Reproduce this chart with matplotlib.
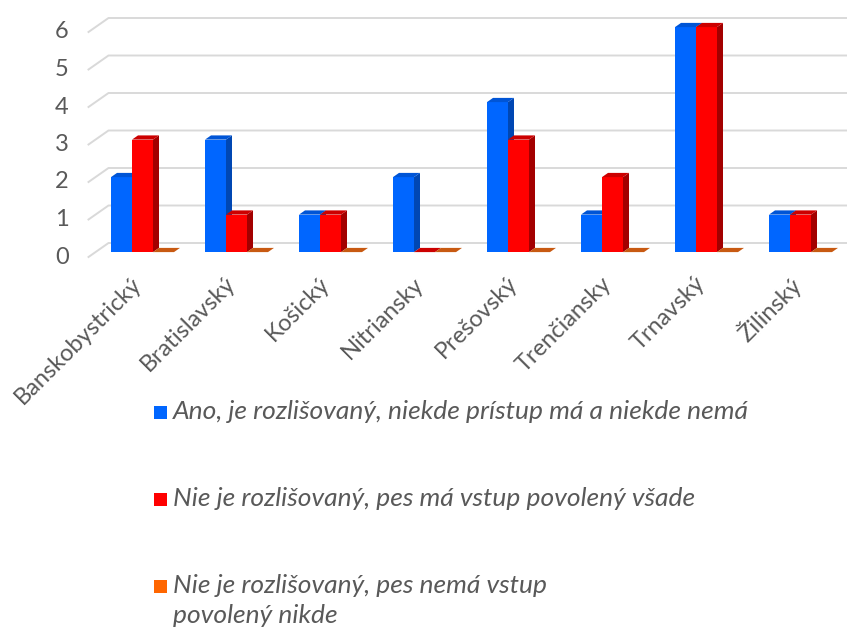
import numpy as np
import matplotlib
matplotlib.use('Agg')
import matplotlib.pyplot as plt
from matplotlib.patches import Polygon, Rectangle

# data
regions = ['Banskobystrický', 'Bratislavský', 'Košický', 'Nitriansky',
           'Prešovský', 'Trenčiansky', 'Trnavský', 'Žilinský']
rozlisovany = [2, 3, 1, 2, 4, 1, 6, 1]
povoleny_vsade = [3, 1, 1, 0, 3, 2, 6, 1]
povoleny_nikde = [0, 0, 0, 0, 0, 0, 0, 0]
series_names = ['Ano, je rozlišovaný, niekde prístup má a niekde nemá',
                'Nie je rozlišovaný, pes má vstup povolený všade',
                'Nie je rozlišovaný, pes nemá vstup\npovolený nikde']
y_ticks = [0, 1, 2, 3, 4, 5, 6]

# front, side, top colours per series
colors = [('#0066ff', '#0047b3', '#0055d6'),
          ('#ff0000', '#a30000', '#cc0000'),
          ('#ff6600', '#b34700', '#c85a12')]
text_color = '#595959'
font = 'Lato'

W, H = 847, 630
fig = plt.figure(figsize=(W / 100, H / 100), dpi=100)
ax_left, ax_w = 88.5, 752
ax_base, ax_h = 257, 225
ax = fig.add_axes([ax_left / W, (H - ax_base) / H, ax_w / W, ax_h / H])
ax.set_xlim(-0.5, 7.5)
ax.set_ylim(0, 6)
ax.axis('off')

# pixel -> data scale, used for the fake 3d depth
sx = 8 / ax_w
sy = 6 / ax_h
dx, dy = 20 * sx, 14 * sy
f0, f1 = 0.35, 0.65

# back wall grid + floor diagonals
for v in y_ticks:
    ax.plot([-0.5, -0.5 + dx, 7.5 + 30 * sx], [v, v + dy, v + dy],
            color='#d9d9d9', lw=1.4, clip_on=False, zorder=0)
    ax.text(-0.5 - 20 * sx, v, str(v), ha='right', va='center',
            fontsize=17, color=text_color, family=font)

bw = 21 / 94
values = [rozlisovany, povoleny_vsade, povoleny_nikde]
x = np.arange(len(regions))
for i in x:
    for j, vals in enumerate(values):
        v = vals[i]
        xl = i - 1.5 * bw + j * bw + f0 * dx
        xr = xl + bw
        y0 = f0 * dy
        ddx, ddy = (f1 - f0) * dx, (f1 - f0) * dy
        front, side, top = colors[j]
        z = 2 + i * 0.1 + j * 0.01
        if v > 0:
            ax.add_patch(Polygon([(xr, y0), (xr + ddx, y0 + ddy),
                                  (xr + ddx, y0 + v + ddy), (xr, y0 + v)],
                                 closed=True, fc=side, ec='none', zorder=z,
                                 clip_on=False))
            ax.add_patch(Rectangle((xl, y0), bw, v, fc=front, ec='none',
                                   zorder=z, clip_on=False))
        ax.add_patch(Polygon([(xl, y0 + v), (xr, y0 + v),
                              (xr + ddx, y0 + v + ddy), (xl + ddx, y0 + v + ddy)],
                             closed=True, fc=top, ec='none', zorder=z,
                             clip_on=False))

# category labels
for i, name in enumerate(regions):
    ax.text(i - 5 * sx, -16 * sy, name, rotation=45, rotation_mode='anchor',
            ha='right', va='top', fontsize=17,
            color=text_color, family=font, clip_on=False)

# legend
for k, name in enumerate(series_names):
    yc = 412 + 87 * k
    fig.patches.append(Rectangle((154 / W, (H - yc - 6.5) / H), 13 / W, 13 / H,
                                 fc=colors[k][0], ec='none',
                                 transform=fig.transFigure, figure=fig))
    for n, line in enumerate(name.split('\n')):
        fig.text(173 / W, (H - yc - 7 - 30 * n) / H, line, ha='left',
                 va='baseline', fontsize=19, style='italic',
                 color=text_color, family=font)

fig.savefig('out.png', dpi=100)
